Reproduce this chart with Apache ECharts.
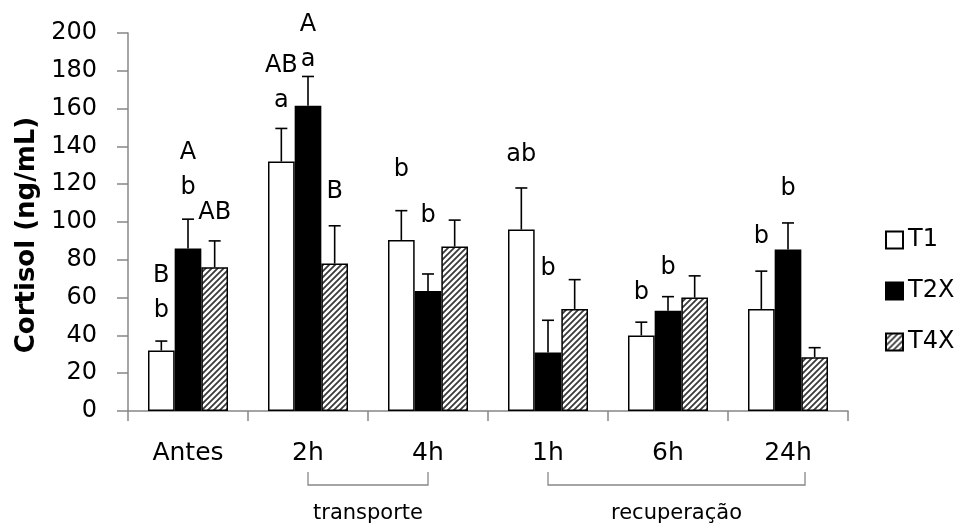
<!DOCTYPE html>
<html>
<head>
<meta charset="utf-8">
<script src="https://cdn.jsdelivr.net/npm/echarts@6/dist/echarts.min.js"></script>
<style>
  html, body { margin: 0; padding: 0; background: #fff; }
  #chart { width: 956px; height: 524px; }
</style>
</head>
<body>
<div id="chart"></div>
<script>
// Cortisol (ng/mL) by sampling time and treatment: means, upper error and significance letters
const categories = ['Antes', '2h', '4h', '1h', '6h', '24h'];
const seriesNames = ['T1', 'T2X', 'T4X'];

const t1 = [32, 132, 90.5, 96, 40, 54];
const t2x = [86, 161.5, 63.5, 31, 53, 85.5];
const t4x = [76, 78, 87, 54, 60, 28.5];

const t1Err = [5, 17.5, 15.5, 22, 7, 20];
const t2xErr = [15.5, 15.5, 9, 17, 7.5, 14];
const t4xErr = [14, 20, 14, 15.5, 11.5, 5];

// significance letters (top line first) and the level of their lowest line
const t1Letters = ['B\nb', 'AB\na', 'b', 'ab', 'b', 'b'];
const t1LetterLevel = [53, 164, 127.5, 135.5, 62.5, 92];
const t2xLetters = ['A\nb', 'A\na', 'b', 'b', 'b', 'b'];
const t2xLetterLevel = [118, 186, 103.5, 75, 76, 117.5];
const t4xLetters = ['AB', 'B', '', '', '', ''];
const t4xLetterLevel = [105, 116, 0, 0, 0, 0];

const yTicks = { min: 0, max: 200, interval: 20 };
const yTitle = 'Cortisol (ng/mL)';
const groupLabels = [
  { text: 'transporte', from: '2h', to: '4h' },
  { text: 'recuperação', from: '1h', to: '24h' }
];

const FONT = 'DejaVu Sans';
const GREY = '#878787';
const CAT_GAP = 1 / 3;

// diagonal hatch fill for T4X
function hatch() {
  const c = document.createElement('canvas');
  c.width = 6; c.height = 6;
  const g = c.getContext('2d');
  g.fillStyle = '#fff';
  g.fillRect(0, 0, 6, 6);
  g.strokeStyle = '#3a3a3a';
  g.lineWidth = 1.8;
  g.beginPath();
  g.moveTo(-1, 7); g.lineTo(7, -1);
  g.moveTo(-4, 4); g.lineTo(4, -4);
  g.moveTo(2, 10); g.lineTo(10, 2);
  g.stroke();
  return { image: c, repeat: 'repeat' };
}

const values = [t1, t2x, t4x];
const errs = [t1Err, t2xErr, t4xErr];
const letters = [t1Letters, t2xLetters, t4xLetters];
const letterLevels = [t1LetterLevel, t2xLetterLevel, t4xLetterLevel];
const fills = ['#ffffff', '#000000', hatch()];

function barX(api, ci, si) {
  const center = api.coord([ci, 0])[0];
  const band = api.size([1, 0])[0];
  const bw = band * (1 - CAT_GAP) / 3;
  return center + (si - 1) * bw;
}

const barSeries = seriesNames.map((name, si) => ({
  name,
  type: 'bar',
  data: values[si],
  barGap: '0%',
  barCategoryGap: (CAT_GAP * 100) + '%',
  itemStyle: { color: fills[si], borderColor: '#000', borderWidth: 1.5 },
  emphasis: { disabled: true },
  z: 2
}));

const errSeries = seriesNames.map((name, si) => ({
  type: 'custom',
  name: name + ' err',
  data: values[si].map((v, i) => [i, v, errs[si][i]]),
  z: 3,
  silent: true,
  renderItem(params, api) {
    const ci = api.value(0);
    const v = api.value(1);
    const e = api.value(2);
    const x = barX(api, ci, si);
    const y0 = api.coord([ci, v])[1];
    const y1 = api.coord([ci, v + e])[1];
    const style = { stroke: '#000', lineWidth: 1.6 };
    return {
      type: 'group',
      children: [
        { type: 'line', shape: { x1: x, y1: y0, x2: x, y2: y1 }, style },
        { type: 'line', shape: { x1: x - 6, y1: y1, x2: x + 6, y2: y1 }, style }
      ]
    };
  }
}));

const letterSeries = seriesNames.map((name, si) => ({
  type: 'custom',
  name: name + ' letters',
  data: letterLevels[si].map((lv, i) => [i, lv]),
  z: 4,
  silent: true,
  clip: false,
  renderItem(params, api) {
    const ci = api.value(0);
    const txt = letters[si][params.dataIndex];
    if (!txt) return null;
    const x = barX(api, ci, si);
    const y = api.coord([ci, api.value(1)])[1];
    const lines = txt.split('\n').reverse();
    return {
      type: 'group',
      children: lines.map((t, k) => ({
        type: 'text',
        style: {
          text: t, x: x, y: y - k * 35,
          align: 'center', verticalAlign: 'middle',
          font: '24px "' + FONT + '"', fill: '#000'
        }
      }))
    };
  }
}));

const chart = echarts.init(document.getElementById('chart'), null, { renderer: 'canvas' });

chart.setOption({
  animation: false,
  backgroundColor: '#fff',
  grid: { left: 128, right: 108, top: 33, bottom: 113 },
  legend: {
    orient: 'vertical',
    left: 885,
    top: 228,
    padding: 0,
    itemWidth: 17,
    itemHeight: 17,
    itemGap: 27,
    icon: 'rect',
    data: seriesNames,
    textStyle: { fontFamily: FONT, fontSize: 24, color: '#000' },
    selectedMode: false
  },
  xAxis: {
    type: 'category',
    data: categories,
    axisLine: { lineStyle: { color: GREY, width: 1.5 } },
    axisTick: { show: true, length: 10, interval: 0, lineStyle: { color: GREY, width: 1.5 } },
    axisLabel: { fontFamily: FONT, fontSize: 25, color: '#000', margin: 30, interval: 0 }
  },
  yAxis: {
    type: 'value',
    min: yTicks.min,
    max: yTicks.max,
    interval: yTicks.interval,
    axisLine: { show: true, lineStyle: { color: GREY, width: 1.5 } },
    axisTick: { show: true, length: 11, lineStyle: { color: GREY, width: 1.5 } },
    splitLine: { show: false },
    axisLabel: { fontFamily: FONT, fontSize: 24, color: '#000', margin: 31 }
  },
  series: [...barSeries, ...errSeries, ...letterSeries]
});

// y-axis title and the brackets grouping the sampling times, with their captions
function drawAnnotations() {
  const y0 = chart.convertToPixel({ yAxisIndex: 0 }, 0);
  const yTop = chart.convertToPixel({ yAxisIndex: 0 }, yTicks.max);
  const elements = [{
    type: 'text',
    x: 27,
    y: (y0 + yTop) / 2 + 13,
    rotation: Math.PI / 2,
    style: {
      text: yTitle, x: 0, y: 0,
      align: 'center', verticalAlign: 'middle',
      font: 'bold 26px "' + FONT + '"', fill: '#000'
    },
    silent: true
  }];
  groupLabels.forEach((g, k) => {
    const xa = chart.convertToPixel({ xAxisIndex: 0 }, g.from);
    let xb = chart.convertToPixel({ xAxisIndex: 0 }, g.to);
    if (k === 1) xb += 17;
    const top = y0 + 61, bot = y0 + 74;
    elements.push({
      type: 'polyline',
      shape: { points: [[xa, top], [xa, bot], [xb, bot], [xb, top]] },
      style: { stroke: GREY, lineWidth: 1.3, fill: null },
      silent: true
    });
    elements.push({
      type: 'text',
      style: {
        text: g.text, x: (xa + xb) / 2, y: y0 + 103,
        align: 'center', verticalAlign: 'middle',
        font: '21px "' + FONT + '"', fill: '#000'
      },
      silent: true
    });
  });
  chart.setOption({ graphic: { elements } });
}
drawAnnotations();
</script>
</body>
</html>
